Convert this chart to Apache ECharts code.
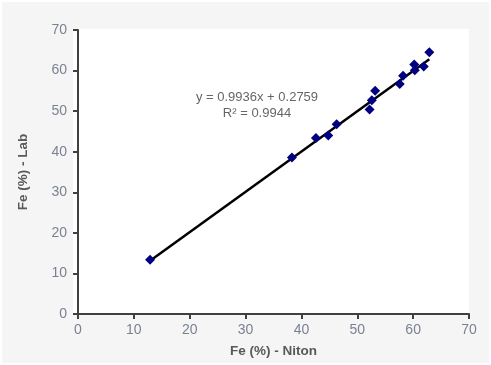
<!DOCTYPE html>
<html>
<head>
<meta charset="utf-8">
<script src="https://cdn.jsdelivr.net/npm/echarts@6/dist/echarts.min.js"></script>
<style>
html,body{margin:0;padding:0;background:#ffffff;}
#chart{width:491px;height:365px;}
</style>
</head>
<body>
<div id="chart"></div>
<script>
// Data
const nitonFe = [12.9, 38.3, 42.6, 44.8, 46.3, 52.2, 52.6, 53.2, 57.6, 58.2, 60.2, 60.3, 61.9, 62.9];
const labFe   = [13.4, 38.6, 43.4, 44.0, 46.8, 50.4, 52.7, 55.0, 56.7, 58.7, 61.5, 60.1, 61.0, 64.5];
const trendX  = [12.9, 62.9];
const trendY  = [13.1, 62.8];
const xTicks  = [0, 10, 20, 30, 40, 50, 60, 70];
const yTicks  = [0, 10, 20, 30, 40, 50, 60, 70];
const equationLines = ['y = 0.9936x + 0.2759', 'R² = 0.9944'];
const xTitle = 'Fe (%) - Niton';
const yTitle = 'Fe (%) - Lab';

const points = nitonFe.map((x, i) => [x, labFe[i]]);
const trend = trendX.map((x, i) => [x, trendY[i]]);

const font = '"Liberation Sans", Arial, sans-serif';
const chart = echarts.init(document.getElementById('chart'), null, {renderer: 'canvas'});
chart.setOption({
  backgroundColor: '#ffffff',
  animation: false,
  graphic: [
    {type: 'rect', z: -10, shape: {x: 2, y: 2, width: 487, height: 361}, style: {fill: '#f5f5f5'}},
    {type: 'rect', z: -9, shape: {x: 73, y: 29, width: 396, height: 286}, style: {fill: '#ffffff'}},
    {type: 'text', z: 10,
     style: {text: equationLines.join('\n'), x: 257, y: 89, textAlign: 'center', fill: '#666666',
             font: '13px ' + font, lineHeight: 16}}
  ],
  grid: {left: 78, right: 22, top: 30, bottom: 51, containLabel: false},
  xAxis: {
    type: 'value', min: xTicks[0], max: xTicks[xTicks.length - 1], interval: 10,
    name: xTitle, nameLocation: 'middle', nameGap: 30,
    nameTextStyle: {fontFamily: font, fontSize: 13.5, fontWeight: 'bold', color: '#595959'},
    axisLine: {show: true, lineStyle: {color: '#404040', width: 2}},
    axisTick: {show: true, length: 5, lineStyle: {color: '#404040', width: 2}},
    axisLabel: {fontFamily: font, fontSize: 14, color: '#7a8292', margin: 9},
    splitLine: {show: false}
  },
  yAxis: {
    type: 'value', min: yTicks[0], max: yTicks[yTicks.length - 1], interval: 10,
    name: yTitle, nameLocation: 'middle', nameGap: 48, nameRotate: 90,
    nameTextStyle: {fontFamily: font, fontSize: 13.5, fontWeight: 'bold', color: '#595959'},
    axisLine: {show: true, lineStyle: {color: '#404040', width: 2}},
    axisTick: {show: true, length: 5, lineStyle: {color: '#404040', width: 2}},
    axisLabel: {fontFamily: font, fontSize: 14, color: '#7a8292', margin: 11},
    splitLine: {show: false}
  },
  series: [
    {type: 'line', data: trend, symbol: 'none', lineStyle: {color: '#000000', width: 2.5}, z: 3},
    {type: 'scatter', data: points, symbol: 'diamond', symbolSize: 10,
     itemStyle: {color: '#000080', opacity: 1}, z: 4}
  ]
});
</script>
</body>
</html>
